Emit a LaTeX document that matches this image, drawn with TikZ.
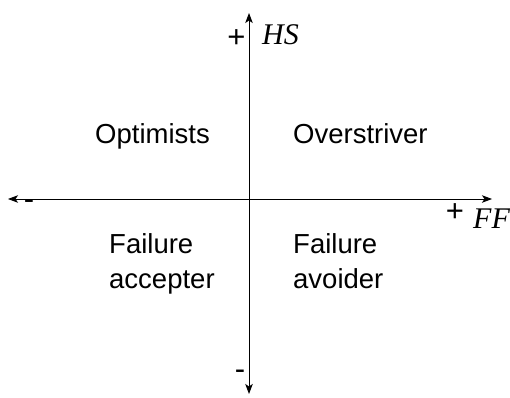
\documentclass[tikz,border=0pt]{standalone}
\usepackage{fontspec}
\setmainfont{Liberation Sans}
\newfontfamily\axfont{Liberation Serif}
\usetikzlibrary{arrows.meta}
\tikzset{
  axis/.style={line width=0.9pt, black, {Stealth[length=10pt,width=7.5pt,inset=2.5pt]}-{Stealth[length=10pt,width=7.5pt,inset=2.5pt]}},
  lbl/.style={inner sep=0pt, anchor=base west, font=\fontsize{27.5}{33}\selectfont},
  sgn/.style={inner sep=0pt, anchor=center, font=\fontsize{31}{36}\selectfont},
  axlbl/.style={inner sep=0pt, anchor=base west, font=\axfont\itshape\fontsize{30}{36}\selectfont}
}
\begin{document}
\begin{tikzpicture}[x=1pt,y=1pt]
\useasboundingbox (0,0) rectangle (510,397);
\coordinate (top) at (249,384);
\coordinate (bot) at (249,3);
\coordinate (lft) at (8,198);
\coordinate (rgt) at (492,198);
\draw[axis] (bot) -- (top);
\draw[axis] (lft) -- (rgt);
\node[lbl] (opt) at (95,254) {Optimists};
\node[lbl] (ovs) at (293,254) {Overstriver};
\node[lbl] (fa1) at (109,144) {Failure};
\node[lbl] (fa2) at (109,109) {accepter};
\node[lbl] (fv1) at (293,144) {Failure};
\node[lbl] (fv2) at (293,109) {avoider};
\node[sgn] (ptop) at (236.5,358) {+};
\node[axlbl] (hs) at (262,352) {HS};
\node[sgn] (mlft) at (29,192) {-};
\node[sgn] (prgt) at (455,184) {+};
\node[axlbl] (ff) at (473,169) {FF};
\node[sgn] (mbot) at (240,22) {-};
\end{tikzpicture}
\end{document}
